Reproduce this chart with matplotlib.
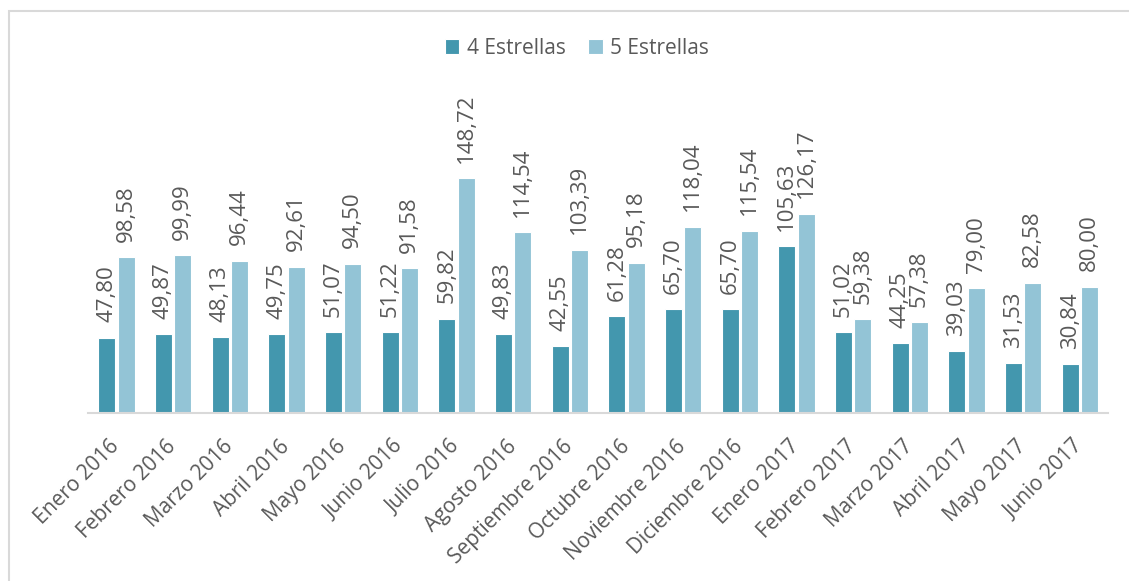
import numpy as np
import matplotlib.pyplot as plt
from matplotlib.patches import Rectangle

meses = ["Enero 2016", "Febrero 2016", "Marzo 2016", "Abril 2016", "Mayo 2016",
         "Junio 2016", "Julio 2016", "Agosto 2016", "Septiembre 2016",
         "Octubre 2016", "Noviembre 2016", "Diciembre 2016", "Enero 2017",
         "Febrero 2017", "Marzo 2017", "Abril 2017", "Mayo 2017", "Junio 2017"]
cuatro_estrellas = [47.80, 49.87, 48.13, 49.75, 51.07, 51.22, 59.82, 49.83, 42.55,
                    61.28, 65.70, 65.70, 105.63, 51.02, 44.25, 39.03, 31.53, 30.84]
cinco_estrellas = [98.58, 99.99, 96.44, 92.61, 94.50, 91.58, 148.72, 114.54, 103.39,
                   95.18, 118.04, 115.54, 126.17, 59.38, 57.38, 79.00, 82.58, 80.00]

plt.rcParams['font.family'] = ['Open Sans', 'DejaVu Sans']
gris = '#595959'
c4 = '#4397AE'
c5 = '#93C4D6'

fig = plt.figure(figsize=(11.29, 5.81), dpi=100)
ax = fig.add_axes([0.078, 0.289, 0.9035, 0.544])

# marco del gráfico
fig.patches.append(Rectangle((9 / 1129, -0.1), 1.2, 1 - 11 / 581 + 0.1,
                             transform=fig.transFigure, fill=False,
                             edgecolor='#D9D9D9', linewidth=1.5))

x = np.arange(len(meses))
w = 0.3
b4 = ax.bar(x - w / 2 - 0.02, cuatro_estrellas, w, color=c4, edgecolor='white',
            linewidth=0.8, label='4 Estrellas')
b5 = ax.bar(x + w / 2 + 0.02, cinco_estrellas, w, color=c5, edgecolor='white',
            linewidth=0.8, label='5 Estrellas')

def etiquetas(barras, valores):
    for r, v in zip(barras, valores):
        ax.annotate(f"{v:.2f}".replace('.', ','),
                    (r.get_x() + r.get_width() / 2, r.get_height()),
                    xytext=(0, 11), textcoords='offset points',
                    rotation=90, ha='center', va='bottom',
                    fontsize=16, color=gris)

etiquetas(b4, cuatro_estrellas)
etiquetas(b5, cinco_estrellas)

ax.set_xlim(-0.5, len(meses) - 0.5)
ax.set_ylim(0, 200)
ax.set_yticks([])
for s in ['top', 'right', 'left']:
    ax.spines[s].set_visible(False)
ax.spines['bottom'].set_color('#D9D9D9')
ax.spines['bottom'].set_linewidth(1.5)

ax.set_xticks(x)
ax.set_xticklabels(meses, rotation=45, ha='right', va='center',
                   rotation_mode='anchor', fontsize=15, color=gris)
ax.tick_params(axis='x', length=0, pad=22)

fig.legend(handles=[b4, b5], loc='center', bbox_to_anchor=(577 / 1129, 1 - 48 / 581),
           ncol=2, frameon=False, fontsize=15, labelcolor=gris,
           handlelength=0.7, handleheight=0.7, handletextpad=0.35, columnspacing=1.1)

fig.savefig('out.png', dpi=100, facecolor='white')
